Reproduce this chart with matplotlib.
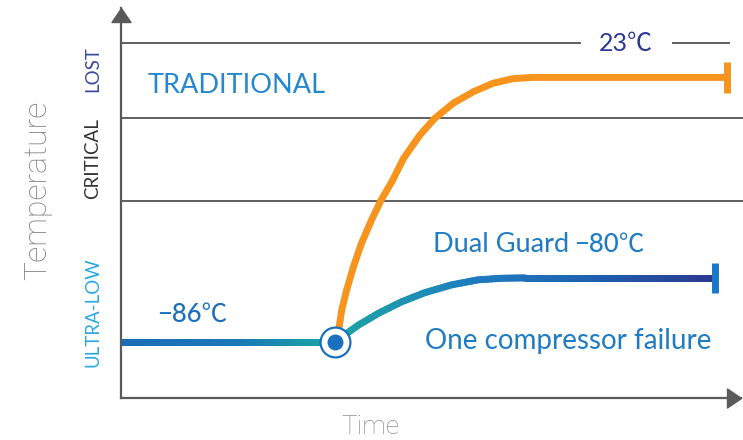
import numpy as np
import matplotlib
matplotlib.use("Agg")
import matplotlib.pyplot as plt
from matplotlib.collections import LineCollection
from matplotlib.colors import LinearSegmentedColormap
from matplotlib.path import Path

# ---------------- data (abstract time / temperature units) ----------------
zone_levels = [50.5, 71.8, 91.0]          # boundaries ULTRA-LOW|CRITICAL|LOST|top
zone_labels = ["ULTRA-LOW", "CRITICAL", "LOST"]
zone_label_y = [22.1, 61.5, 84.4]

trad_time = [34.5, 34.95, 35.6, 36.4, 37.5, 38.8, 40.4, 41.9, 43.7, 45.6, 48.2,
             50.6, 53.6, 56.8, 60.0, 63.3, 66.5, 97.7]
trad_temp = [14.4, 15.7, 22.6, 27.7, 33.7, 39.7, 45.6, 50.6, 55.5, 61.5, 67.4,
             71.7, 75.6, 78.5, 80.7, 81.9, 82.2, 82.2]

dual_time = [0.0, 34.5, 35.3, 38.3, 41.5, 45.3, 49.0, 53.3, 57.6, 61.4, 65.2, 95.8]
dual_temp = [14.4, 14.4, 15.3, 18.7, 21.7, 24.7, 27.0, 29.0, 30.3, 30.7, 30.8, 30.8]

failure_time = 34.5
failure_temp = 14.4

label_trad = "TRADITIONAL"
label_room = "23℃"
label_dual = "Dual Guard"
label_dual_val = "−80℃"
label_start = "−86℃"
label_fail = "One compressor failure"
xlabel = "Time"
ylabel = "Temperature"

# ---------------- style ----------------
FONT = ["Lato", "Noto Sans CJK SC", "DejaVu Sans"]
plt.rcParams["font.family"] = FONT
ORANGE = "#f7941d"
NAVY = "#2b3990"
GRID = "#5f5f5f"
AX = "#5a5a5a"

W, H = 743, 440
fig = plt.figure(figsize=(W / 100, H / 100), dpi=100)
L, R, B, T = 121, 741, 398, 8
ax = fig.add_axes([L / W, (H - B) / H, (R - L) / W, (B - T) / H])
ax.set_xlim(0, 100)
ax.set_ylim(0, 100)
ax.set_xticks([])
ax.set_yticks([])
for s in ("top", "right"):
    ax.spines[s].set_visible(False)
for s in ("left", "bottom"):
    ax.spines[s].set_color(AX)
    ax.spines[s].set_linewidth(1.6)

# arrow heads
up = Path([(0, 0), (-9.5, -14), (9.5, -14), (0, 0)], closed=True)
rt = Path([(0, 0), (-14, 9.5), (-14, -9.5), (0, 0)], closed=True)
ax.plot([0], [1], marker=up, ms=28 * 0.72, color=AX, transform=ax.transAxes, clip_on=False)
ax.plot([1], [0], marker=rt, ms=28 * 0.72, color=AX, transform=ax.transAxes, clip_on=False)

# zone lines
ax.hlines(zone_levels[0], 0, 100.4, color=GRID, lw=1.4, clip_on=False)
ax.hlines(zone_levels[1], 0, 100.4, color=GRID, lw=1.4, clip_on=False)
ax.hlines(zone_levels[2], 0, 74.2, color=GRID, lw=1.4, clip_on=False)
ax.hlines(zone_levels[2], 88.9, 98.2, color=GRID, lw=1.4, clip_on=False)

# zone labels (rotated, left of axis)
zone_colors = ["#29aae1", "#333333", "#3b4aa0"]
for lab, yy, c in zip(zone_labels, zone_label_y, zone_colors):
    ax.text(-4.5, yy, lab, rotation=90, ha="center", va="center", fontsize=13.5,
            color=c, clip_on=False)

# gradient line helper
def gradient_line(xs, ys, stops, lw):
    xs = np.asarray(xs, float)
    ys = np.asarray(ys, float)
    segs, pos = [], []
    for i in range(len(xs) - 1):
        n = max(2, int(abs(xs[i + 1] - xs[i]) * 2))
        t = np.linspace(0, 1, n + 1)
        px = xs[i] + (xs[i + 1] - xs[i]) * t
        py = ys[i] + (ys[i + 1] - ys[i]) * t
        for j in range(n):
            segs.append([(px[j], py[j]), (px[j + 1], py[j + 1])])
            pos.append(0.5 * (px[j] + px[j + 1]))
    cmap = LinearSegmentedColormap.from_list("g", stops)
    pos = np.array(pos)
    cols = cmap((pos - xs.min()) / (xs.max() - xs.min()))
    lc = LineCollection(segs, colors=cols, linewidths=lw, capstyle="round", joinstyle="round")
    ax.add_collection(lc)

# traditional (orange)
ax.plot(trad_time, trad_temp, color=ORANGE, lw=5.0, solid_joinstyle="round",
        solid_capstyle="butt", zorder=3)
ax.vlines(trad_time[-1], trad_temp[-1] - 3.9, trad_temp[-1] + 3.9, color=ORANGE, lw=5.0, zorder=3)

# dual guard (gradient)
stops = [(0.0, "#1a6db8"), (0.2, "#1a78b8"), (0.31, "#1a98a8"), (0.36, "#1aa59f"),
         (0.45, "#1d98b0"), (0.6, "#1d7cc0"), (0.8, "#1f60b0"), (1.0, "#2b3a8f")]
gradient_line(dual_time, dual_temp, stops, 5.0)
ax.vlines(dual_time[-1], dual_temp[-1] - 3.9, dual_temp[-1] + 3.9, color="#1a78c8", lw=5.0, zorder=3)

# failure marker
ax.plot([failure_time], [failure_temp], marker="o", ms=21.5, mfc="white", mec="#1a6fbf",
        mew=1.6, zorder=5)
ax.plot([failure_time], [failure_temp], marker="o", ms=11.5, color="#1a6fbf", mew=0, zorder=6)

# texts
ax.text(4.3, 78.2, label_trad, fontsize=19.5, color="#2787cc", ha="left", va="baseline")
ax.text(81.5, 89.0, label_room, fontsize=18, color=NAVY, ha="center", va="baseline")
ax.text(50.3, 37.4, label_dual, fontsize=19.5, color="#1f7bc4", ha="left", va="baseline")
ax.text(73.1, 37.4, label_dual_val, fontsize=18.5, color="#1f7bc4", ha="left", va="baseline",
        fontweight="medium")
ax.text(5.8, 19.5, label_start, fontsize=18.5, color="#1a6fbf", ha="left", va="baseline",
        fontweight="medium")
ax.text(49.0, 12.6, label_fail, fontsize=20, color="#1f7bc4", ha="left", va="baseline")
ax.text(40.2, -9.3, xlabel, fontsize=19, color="#909090", ha="center", va="baseline",
        family=["Roboto", "DejaVu Sans"], fontweight="light", clip_on=False)
ax.text(-13.4, 53.3, ylabel, fontsize=23, color="#808080", ha="center", va="center",
        rotation=90, family=["Roboto", "DejaVu Sans"], fontweight="light", clip_on=False)

fig.savefig("out.png", dpi=100)
